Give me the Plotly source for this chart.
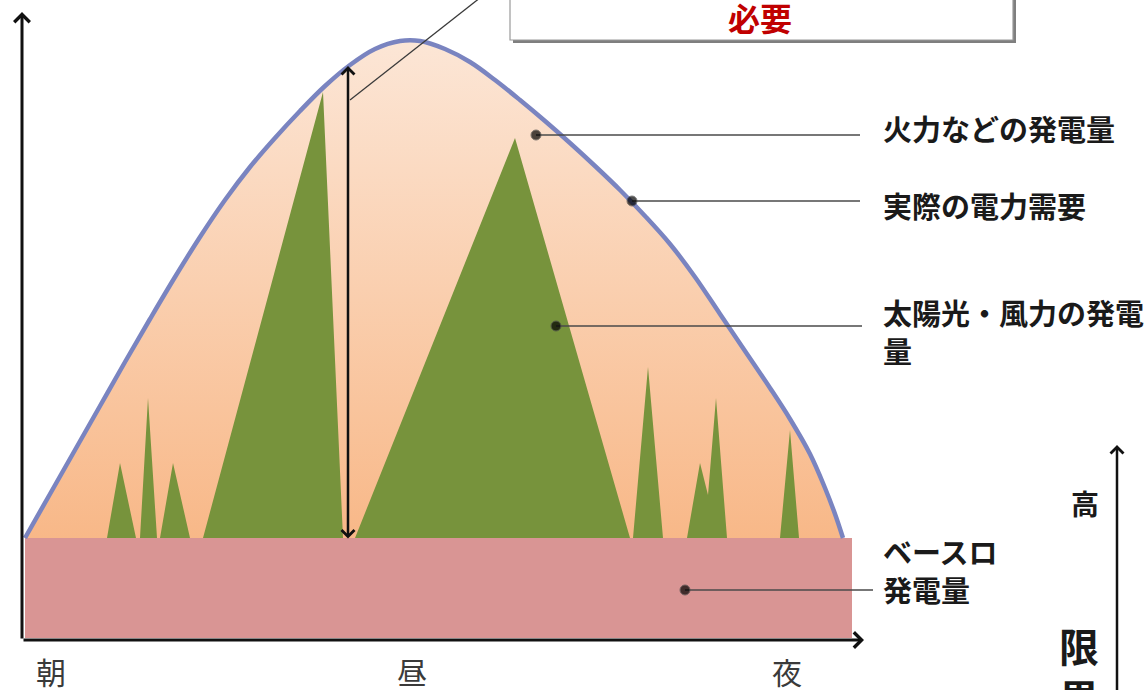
import plotly.graph_objects as go

# ---- data (time on x, power on y; baseline load occupies 0..100) ----
demand_t = [3, 28, 53, 78, 103, 128, 153, 178, 203, 228, 253, 278, 303, 328, 353, 378,
            398, 423, 448, 473, 498, 523, 548, 573, 598, 623, 648, 673, 698, 723, 748,
            768, 788, 803, 813, 821]
demand_p = [100, 144, 188, 232, 276, 319, 361, 401, 438, 471, 500, 527, 552, 573, 589, 597,
            597, 589, 576, 558, 538, 517, 495, 472, 448, 422, 394, 361, 324, 287, 250,
            219, 184, 150, 124, 100]

base_t = [3, 830]
base_level = 100

# solar / wind output spikes (each a polygon above the base load)
spikes_t = [
    [85, 98, 114],
    [118, 126, 135],
    [138, 151, 168],
    [181, 301, 321],
    [333, 493, 608],
    [611, 626, 641],
    [665, 678, 686, 694, 705],
    [758, 768, 777],
]
spikes_p = [
    [100, 175, 100],
    [100, 240, 100],
    [100, 175, 100],
    [100, 546, 100],
    [100, 500, 100],
    [100, 271, 100],
    [100, 175, 143, 240, 100],
    [100, 208, 100],
]

time_labels = ["朝", "昼", "夜"]
time_label_t = [29, 390, 765]

callout_labels = ["火力などの発電量", "実際の電力需要", "太陽光・風力の発電<br>量", "ベースロ<br>発電量"]
callout_text_p = [510, 433, 307, 68]
callout_dot_t = [514, 610, 534, 663]
callout_dot_p = [503, 437, 312, 48]
callout_end_t = [838, 838, 840, 851]

FONT = "Noto Sans CJK JP"
GREEN = "#77933C"
PINK = "#D99594"
DEMAND = "#7A84C0"

fig = go.Figure()

# thermal generation band under the demand curve
fig.add_trace(go.Scatter(
    x=demand_t, y=demand_p, mode="lines",
    line=dict(width=0, shape="spline", smoothing=1.0),
    fill="tozeroy",
    fillgradient=dict(type="vertical", start=base_level, stop=max(demand_p),
                      colorscale=[[0, "#F8B888"], [1, "#FCE6D6"]]),
    hoverinfo="skip", showlegend=False,
))

# base load block
fig.add_trace(go.Scatter(
    x=[base_t[0], base_t[1], base_t[1], base_t[0], base_t[0]],
    y=[0, 0, base_level, base_level, 0],
    mode="lines", line=dict(width=0), fill="toself", fillcolor=PINK,
    hoverinfo="skip", showlegend=False,
))

# solar / wind spikes
sx, sy = [], []
for t, p in zip(spikes_t, spikes_p):
    sx += t + [t[0], None]
    sy += p + [p[0], None]
fig.add_trace(go.Scatter(
    x=sx, y=sy, mode="lines", line=dict(width=0), fill="toself", fillcolor=GREEN,
    hoverinfo="skip", showlegend=False,
))

# actual demand curve
fig.add_trace(go.Scatter(
    x=demand_t, y=demand_p, mode="lines",
    line=dict(color=DEMAND, width=4.5, shape="spline", smoothing=1.0),
    hoverinfo="skip", showlegend=False,
))

# callout leader lines with dots
for dt, dp, et in zip(callout_dot_t, callout_dot_p, callout_end_t):
    fig.add_trace(go.Scatter(
        x=[dt, et], y=[dp, dp], mode="lines+markers",
        line=dict(color="#4a4a4a", width=1.3),
        marker=dict(size=[10, 0], color="#000000"),
        hoverinfo="skip", showlegend=False,
    ))

# leader from the note box down to the gap arrow
fig.add_trace(go.Scatter(
    x=[328, 468], y=[538, 648], mode="lines",
    line=dict(color="#3a3a3a", width=1.3),
    hoverinfo="skip", showlegend=False,
))

shapes = [
    dict(type="rect", x0=491, x1=994, y0=595, y1=660, xref="x", yref="y",
         fillcolor="#7f7f7f", line=dict(width=0), layer="above"),
    dict(type="rect", x0=488, x1=991, y0=598, y1=660, xref="x", yref="y",
         fillcolor="white", line=dict(color="#9a9a9a", width=1.2), layer="above"),
]

annotations = []


def arrow(x, y, ax, ay, width=3, both=False):
    return dict(x=x, y=y, ax=ax, ay=ay, xref="x", yref="y", axref="x", ayref="y",
                text="", showarrow=True, arrowhead=4, startarrowhead=4,
                arrowsize=1.0, startarrowsize=1.0, arrowwidth=width,
                arrowcolor="#111111", standoff=0, startstandoff=0,
                arrowside="end+start" if both else "end")


# axes
annotations.append(arrow(0, 626, 0, -2))
annotations.append(arrow(842, -2, 0, -2))
# gap between demand and base load
annotations.append(arrow(326, 572, 326, 98, width=2.5, both=True))
# limit arrow on the right
annotations.append(arrow(1095, 193, 1095, -60, width=2.5))

annotations.append(dict(x=738, y=621, xref="x", yref="y", text="<b>必要</b>",
                        showarrow=False, font=dict(family=FONT, size=32, color="#C00000")))

for txt, tp in zip(callout_labels, callout_text_p):
    annotations.append(dict(x=859, y=tp, xref="x", yref="y", text=txt, showarrow=False,
                            xanchor="left", yanchor="middle", align="left",
                            font=dict(family=FONT, size=29, color="#1a1a1a", weight=700)))

for txt, tt in zip(time_labels, time_label_t):
    annotations.append(dict(x=tt, y=-33, xref="x", yref="y", text=txt, showarrow=False,
                            font=dict(family=FONT, size=30, color="#3a3a3a")))

annotations.append(dict(x=1063, y=135, xref="x", yref="y", text="高", showarrow=False,
                        font=dict(family=FONT, size=28, color="#1a1a1a", weight=700)))
annotations.append(dict(x=1057, y=24, xref="x", yref="y", text="限<br>界", showarrow=False,
                        yanchor="top",
                        font=dict(family=FONT, size=40, color="#1a1a1a", weight=700)))

fig.update_layout(
    width=1148, height=690,
    margin=dict(l=0, r=0, t=0, b=0),
    paper_bgcolor="white", plot_bgcolor="white",
    xaxis=dict(range=[-22, 1126], visible=False, fixedrange=True),
    yaxis=dict(range=[-52, 638], visible=False, fixedrange=True),
    shapes=shapes, annotations=annotations,
    showlegend=False,
)

fig.write_html("out.html")
